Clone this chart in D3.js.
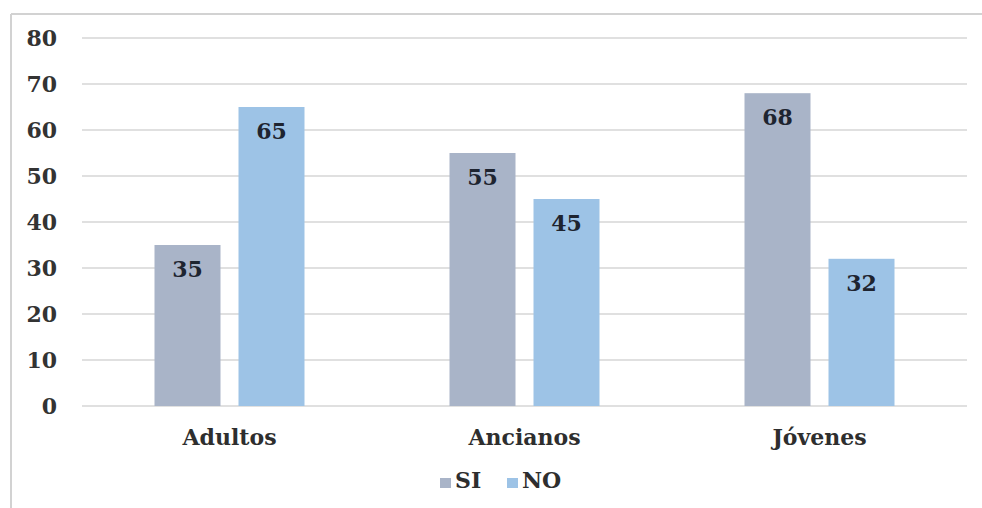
<!DOCTYPE html>
<html>
<head>
<meta charset="utf-8">
<script src="https://cdnjs.cloudflare.com/ajax/libs/d3/7.8.5/d3.min.js"></script>
<style>
  html, body { margin: 0; padding: 0; background: #fff; }
  svg { display: block; }
  text { font-family: "DejaVu Serif", "Liberation Serif", "Times New Roman", serif; font-weight: bold; }
</style>
</head>
<body>
<svg id="chart" width="982" height="508"></svg>
<script>
const categories = ["Adultos", "Ancianos", "Jóvenes"];
const seriesNames = ["SI", "NO"];
const siValues = [35, 55, 68];
const noValues = [65, 45, 32];
const yTicks = [0, 10, 20, 30, 40, 50, 60, 70, 80];

const colors = { SI: "#a9b4c8", NO: "#9dc3e6" };

const svg = d3.select("#chart");
const W = 982, H = 508;
const plotLeft = 82, plotRight = 967;

// outer frame (top and left edges visible)
svg.append("line").attr("x1", 11).attr("x2", W).attr("y1", 14).attr("y2", 14)
  .attr("stroke", "#d2d2d2").attr("stroke-width", 2);
svg.append("line").attr("x1", 11).attr("x2", 11).attr("y1", 14).attr("y2", H)
  .attr("stroke", "#d2d2d2").attr("stroke-width", 2);

const x0 = d3.scaleBand().domain(categories).range([plotLeft, plotRight]);
const groupW = 150;
const x1 = d3.scaleBand().domain(seriesNames).range([0, groupW]).paddingInner(18 / 84);
const y = d3.scaleLinear().domain([0, 80]).range([406, 38]);

// gridlines
svg.append("g").selectAll("line").data(yTicks).join("line")
  .attr("x1", plotLeft).attr("x2", plotRight)
  .attr("y1", d => y(d)).attr("y2", d => y(d))
  .attr("stroke", "#d6d6d6").attr("stroke-width", 1.6);

// y axis labels
const yAxis = d3.axisLeft(y).tickValues(yTicks).tickSize(0).tickPadding(0);
const gy = svg.append("g").attr("transform", "translate(57,0)").call(yAxis);
gy.select(".domain").remove();
gy.selectAll("text")
  .attr("font-family", null).attr("font-size", null)
  .style("font-size", "22px").attr("fill", "#333");

// bars
const rows = categories.map((c, i) => ({ cat: c, vals: [
  { key: "SI", value: siValues[i] }, { key: "NO", value: noValues[i] } ] }));

const groups = svg.append("g").selectAll("g").data(rows).join("g")
  .attr("transform", d => `translate(${x0(d.cat) + (x0.bandwidth() - groupW) / 2},0)`);

groups.selectAll("rect").data(d => d.vals).join("rect")
  .attr("x", d => x1(d.key)).attr("width", x1.bandwidth())
  .attr("y", d => y(d.value)).attr("height", d => y(0) - y(d.value))
  .attr("fill", d => colors[d.key]);

groups.selectAll("text").data(d => d.vals).join("text")
  .attr("x", d => x1(d.key) + x1.bandwidth() / 2)
  .attr("y", d => y(d.value) + 32)
  .attr("text-anchor", "middle")
  .style("font-size", "22px")
  .attr("fill", "#1e2430")
  .text(d => d.value);

// category axis
const xAxis = d3.axisBottom(x0).tickSize(0).tickPadding(0);
const gx = svg.append("g").attr("transform", "translate(0,445)").call(xAxis);
gx.select(".domain").remove();
gx.selectAll("text")
  .attr("font-family", null).attr("font-size", null)
  .style("font-size", "22px").attr("fill", "#2e2e2e").attr("dy", 0);

// legend
const legend = svg.append("g").attr("transform", "translate(440,488)");
const legendItems = [{ key: "SI", dx: 0 }, { key: "NO", dx: 67 }];
legendItems.forEach(it => {
  const g = legend.append("g").attr("transform", `translate(${it.dx},0)`);
  g.append("rect").attr("x", 0).attr("y", -10).attr("width", 11).attr("height", 10)
    .attr("fill", colors[it.key]);
  g.append("text").attr("x", 15).attr("y", 0)
    .style("font-size", "22px")
    .attr("fill", "#2e2e2e").text(it.key);
});
</script>
</body>
</html>
